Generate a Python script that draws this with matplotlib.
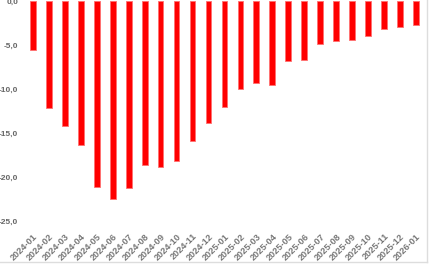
import matplotlib.pyplot as plt
from matplotlib.lines import Line2D

# Monthly values
months = ['2024-01', '2024-02', '2024-03', '2024-04', '2024-05', '2024-06',
          '2024-07', '2024-08', '2024-09', '2024-10', '2024-11', '2024-12',
          '2025-01', '2025-02', '2025-03', '2025-04', '2025-05', '2025-06',
          '2025-07', '2025-08', '2025-09', '2025-10', '2025-11', '2025-12',
          '2026-01']
values = [-5.5, -12.1, -14.2, -16.4, -21.1, -22.5, -21.3, -18.6, -18.9, -18.2,
          -15.9, -13.8, -12.0, -10.0, -9.3, -9.5, -6.8, -6.7, -4.9, -4.5,
          -4.4, -4.0, -3.1, -2.9, -2.7]
y_ticks = [0, -5, -10, -15, -20, -25]


def plot_bars():
    plt.rcParams['font.family'] = ['Liberation Sans', 'DejaVu Sans']
    fig = plt.figure(figsize=(4.34, 2.68), dpi=100)
    ax = fig.add_axes([0.0576, 0.166, 0.919, 0.829])

    x = list(range(len(months)))
    ax.bar(x, values, width=0.36, color='#ff0000', edgecolor='#ff7070', linewidth=0.6)

    ax.set_xlim(-0.5, len(months) - 0.5)
    ax.set_ylim(-25.3, 0)
    ax.set_yticks(y_ticks)
    ax.set_yticklabels([f'{v:.1f}'.replace('.', ',') for v in y_ticks])
    ax.set_xticks(x)
    ax.set_xticklabels(months, rotation=45, ha='right', va='top', rotation_mode='anchor')

    ax.tick_params(axis='y', length=0, pad=5, labelsize=6, labelcolor='#666666')
    ax.tick_params(axis='x', length=0, pad=6, labelsize=6.6, labelcolor='#777777')
    for lbl in ax.get_xticklabels() + ax.get_yticklabels():
        lbl.set_fontweight('bold')
    for s in ax.spines.values():
        s.set_visible(False)

    # light frame of the chart container (right and bottom edges)
    fig.add_artist(Line2D([0.0, 0.9835], [0.0215, 0.0215], color='#dddddd', lw=1))
    fig.add_artist(Line2D([0.9835, 0.9835], [0.0215, 1.0], color='#dddddd', lw=1))

    fig.savefig('out.png', dpi=100)


if __name__ == '__main__':
    plot_bars()
